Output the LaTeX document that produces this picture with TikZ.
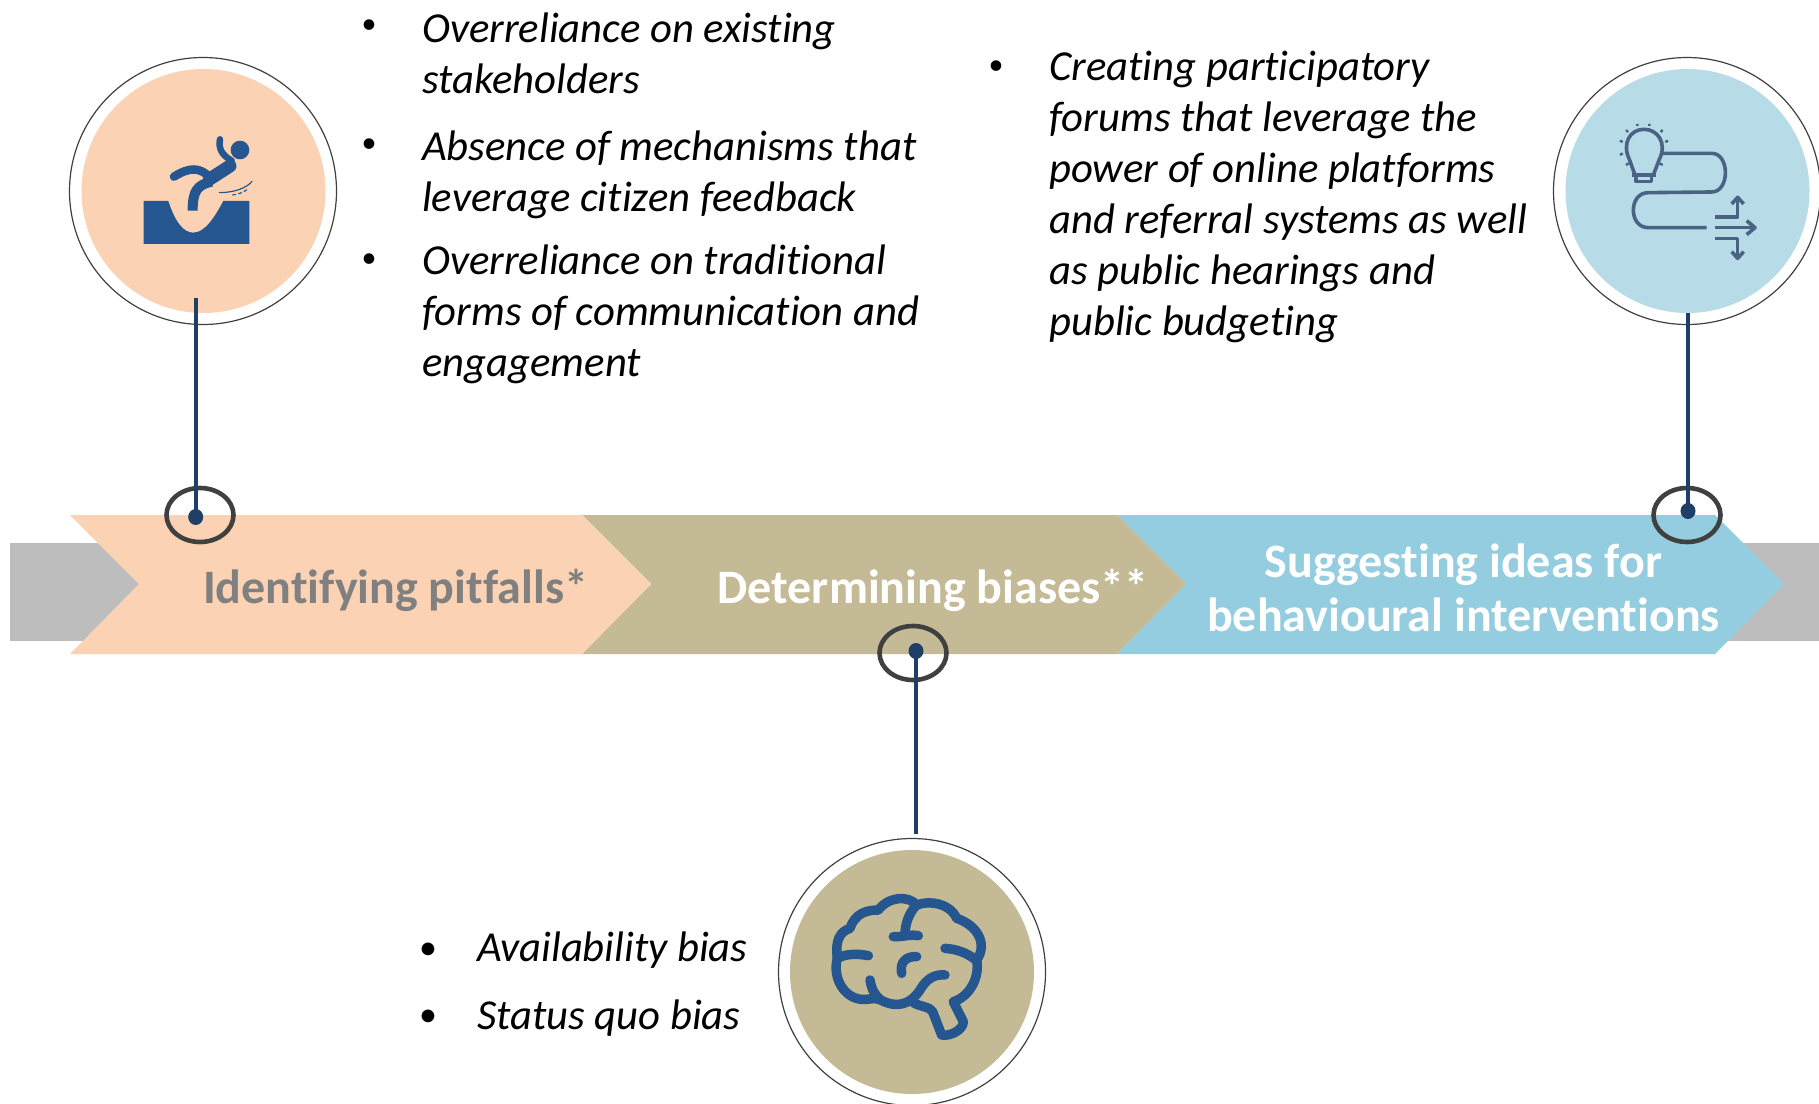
\documentclass[tikz,border=0pt]{standalone}
\usepackage{fontspec}
\setmainfont{Carlito}[Ligatures=NoCommon]
\usetikzlibrary{shapes.geometric,arrows.meta}
\definecolor{peach}{HTML}{FBD3B4}
\definecolor{olive}{HTML}{C4BB96}
\definecolor{skyb}{HTML}{93CDDF}
\definecolor{skyl}{HTML}{B7DCE7}
\definecolor{band}{HTML}{BDBDBD}
\definecolor{navy}{HTML}{1F3F66}
\definecolor{ring}{HTML}{404040}
\definecolor{iconb}{HTML}{25568F}
\definecolor{icong}{HTML}{4A6283}
\tikzset{
  bigdisc/.style={circle,minimum size=244pt,inner sep=0pt,fill=#1},
  bigring/.style={circle,minimum size=267pt,inner sep=0pt,draw=ring,line width=1.2pt},
  smallring/.style={ellipse,minimum width=67pt,minimum height=54pt,inner sep=0pt,draw=ring,line width=4.6pt},
  dotn/.style={ellipse,minimum width=15pt,minimum height=16pt,inner sep=0pt,fill=navy},
  conn/.style={draw=navy,line width=3.6pt},
  bodytext/.style={anchor=north west,align=left,inner sep=0pt,font=\fontsize{42.7}{51}\selectfont\itshape,text=black},
  bul/.style={inner sep=0pt,font=\fontsize{30}{30}\selectfont,text=black},
  bulb/.style={inner sep=0pt,font=\fontsize{36}{36}\selectfont,text=black},
  steplabel/.style={inner sep=0pt,align=center,font=\fontsize{48}{54}\selectfont\bfseries},
}
\begin{document}
\begin{tikzpicture}[x=1pt,y=-1pt]
\path[clip] (0,0) rectangle (1819,1103);
% band
\fill[band] (10,543) rectangle (200,641);
\fill[band] (1700,543) rectangle (1819,641);
% chevrons
\fill[skyb] (1117,515) -- (1715,515) -- (1784,584) -- (1715,654) -- (1117,654) -- (1186,584) -- cycle;
\fill[olive] (582,515) -- (1117,515) -- (1186,584) -- (1117,654) -- (582,654) -- (651,584) -- cycle;
\fill[peach] (70,515) -- (582,515) -- (651,584) -- (582,654) -- (70,654) -- (139,584) -- cycle;
% labels
\node[steplabel,text=black!50,anchor=base] (l1) at (395.5,603) {Identifying pitfalls*};
\node[steplabel,text=white,anchor=base] (l2) at (933,603) {Determining biases**};
\node[steplabel,text=white,anchor=base] (l3) at (1463.5,631) {Suggesting ideas for\\behavioural interventions};
% big circles
\node[bigdisc=peach] (c1) at (203.5,191) {};
\node[bigring] (r1) at (203,191) {};
\node[bigdisc=skyl] (c3) at (1687.5,191) {};
\node[bigring] (r3) at (1687,191) {};
\node[bigdisc=olive] (c2) at (912,972) {};
\node[bigring] (r2) at (912,972) {};
% markers
\node[smallring] (e1) at (200,515) {};
\node[smallring] (e2) at (913,653) {};
\node[smallring] (e3) at (1687,515) {};
\node[dotn] (d1) at (195.7,517) {};
\node[dotn] (d2) at (916,651) {};
\node[dotn] (d3) at (1688,511) {};
\coordinate (t1) at (195.7,298);
\coordinate (t2) at (916,834);
\coordinate (t3) at (1688,313);
\draw[conn] (t1) -- (d1.center);
\draw[conn] (t2) -- (d2.center);
\draw[conn] (t3) -- (d3.center);
% text top left
\node[bul] (b1) at (369,27) {•};
\node[bul] (b2) at (369,146) {•};
\node[bul] (b3) at (369,261) {•};
\node[bodytext] (x1) at (422,12.5) {Overreliance on existing\\stakeholders};
\node[bodytext] (x2) at (422,130.5) {Absence of mechanisms that\\leverage citizen feedback};
\node[bodytext] (x3) at (422,245) {Overreliance on traditional\\forms of communication and\\engagement};
% text top right
\node[bul] (b4) at (996,68) {•};
\node[bodytext] (x4) at (1049,51) {Creating participatory\\forums that leverage the\\power of online platforms\\and referral systems as well\\as public hearings and\\public budgeting};
% text bottom
\node[bulb] (b5) at (428,951) {•};
\node[bulb] (b6) at (428,1018) {•};
\node[bodytext] (x5) at (477,932) {Availability bias};
\node[bodytext] (x6) at (477,1000) {Status quo bias};
% falling man icon
\begin{scope}[shift={(50,40)},x=0.3333pt,y=-0.3333pt]
\fill[iconb] (281,483) -- (355,483) .. controls (375,545) and (400,578) .. (430,578) .. controls (465,578) and (495,530) .. (520,483) -- (598,483) -- (598,612) -- (281,612) -- cycle;
\fill[iconb] (570,330) circle[radius=28];
\draw[iconb,line width=13pt,line cap=round,line join=round] (540,378) -- (478,418);
\draw[iconb,line width=8.5pt,line cap=round] (480,412) .. controls (450,382) and (420,380) .. (372,410);
\draw[iconb,line width=10pt,line cap=butt] (485,425) .. controls (440,435) and (428,455) .. (428,512);
\draw[iconb,line width=6.5pt,line cap=round] (545,362) .. controls (515,345) and (505,325) .. (510,298);
\draw[iconb,line width=1.2pt,line cap=round] (508,458) .. controls (550,458) and (590,445) .. (606,424);
\draw[iconb,line width=1.2pt,line cap=round,dashed] (548,465) .. controls (570,462) and (585,455) .. (595,445);
\end{scope}
% bulb and route icon
\begin{scope}[shift={(1540,40)},x=0.3333pt,y=-0.3333pt]
\begin{scope}[icong,line width=3.6pt,line join=round]
\draw (285,405) -- (268,358) .. controls (245,310) and (270,268) .. (312,268) .. controls (354,268) and (382,310) .. (358,358) -- (340,405);
\draw (275,405) -- (348,405);
\draw (288,405) -- (288,425) -- (335,425) -- (335,405);
\draw (365,340) -- (515,340) .. controls (570,340) and (570,456) .. (515,456) -- (325,458) .. controls (265,458) and (265,563) .. (325,563) -- (500,563);
\draw (525,563) -- (635,563);
\draw (620,542) -- (645,563) -- (620,584);
\draw (525,531) -- (593,531) -- (593,475);
\draw (575,492) -- (593,472) -- (611,492);
\draw (525,595) -- (593,595) -- (593,650);
\draw (575,635) -- (593,655) -- (611,635);
\draw[line width=2.4pt] (292,252) -- (292,258) (328,252) -- (328,258) (258,270) -- (264,276) (362,276) -- (368,270) (240,302) -- (248,306) (376,306) -- (384,302) (240,345) -- (248,340) (258,375) -- (266,370) (358,370) -- (368,375);
\end{scope}
\end{scope}
% brain icon
\begin{scope}[shift={(760,830)},x=0.3333pt,y=-0.3333pt]
\begin{scope}[iconb,line width=9.5pt,line cap=round,line join=round]
\draw (325,377) .. controls (290,370) and (255,372) .. (232,385)
 .. controls (225,330) and (240,305) .. (270,295)
 .. controls (285,250) and (320,240) .. (355,240)
 .. controls (385,200) and (445,195) .. (470,225)
 .. controls (510,210) and (570,220) .. (590,265)
 .. controls (650,285) and (685,340) .. (650,390)
 .. controls (660,440) and (630,500) .. (580,515)
 -- (610,575) .. controls (610,600) and (570,620) .. (545,615)
 -- (518,545) .. controls (510,530) and (480,530) .. (460,518);
\draw (232,385) .. controls (215,450) and (260,515) .. (320,508)
 .. controls (340,505) and (350,505) .. (362,510)
 .. controls (410,535) and (450,525) .. (480,480)
 .. controls (500,445) and (525,432) .. (555,435);
\draw (330,450) .. controls (335,480) and (345,495) .. (362,510);
\draw (470,225) .. controls (445,250) and (435,285) .. (435,315);
\draw (400,320) .. controls (425,322) and (450,312) .. (475,317);
\draw (425,430) .. controls (418,395) and (440,378) .. (470,380);
\draw (555,355) .. controls (600,358) and (630,375) .. (650,392);
\end{scope}
\end{scope}
\end{tikzpicture}
\end{document}
